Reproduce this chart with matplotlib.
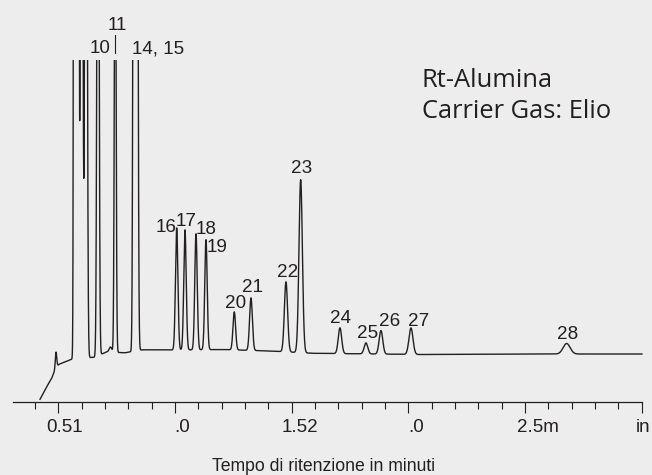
import numpy as np
import matplotlib
matplotlib.use("Agg")
import matplotlib.pyplot as plt
from matplotlib.transforms import ScaledTranslation

# ---------------- data ----------------
# retention time (min), height above baseline, peak width sigma (min)
peak_rt = [0.4901, 0.5771, 0.5999, 0.6187, 0.6701, 0.7237, 0.7439,
           0.8253, 0.8356, 1.0074, 1.0430, 1.0902, 1.1330, 1.2543,
           1.3259, 1.4759, 1.5389, 1.7073, 1.8187, 1.8830, 2.0116, 2.6789]
peak_height = [16, 100000, 990, 990, 760, 5, 500,
               1200, 1200, 122, 120, 116, 110, 38,
               52.5, 70, 173, 25.8, 11, 23.5, 26.5, 10.5]
peak_sigma = [0.0030, 0.00386, 0.00429, 0.00429, 0.00403, 0.00557, 0.00351,
              0.00386, 0.00429, 0.0052, 0.0052, 0.0052, 0.0052, 0.00557,
              0.0060, 0.00686, 0.00729, 0.00729, 0.00771, 0.00771, 0.00857, 0.0150]

# baseline drift of the detector signal
baseline_t = [0.4216, 0.4473, 0.4717, 0.4829, 0.4940, 0.5030, 0.5574, 0.5700,
              0.6530, 0.7087, 0.7859, 0.8600, 1.0001, 1.2016, 1.4073, 1.5916,
              2.0501, 2.6501, 3.0016]
baseline_y = [3.0, 14.3, 24.0, 30.6, 36.0, 38.0, 43.0, 44.0,
              45.0, 50.5, 49.5, 52.5, 52.3, 52.8, 51.3, 49.0,
              47.8, 48.3, 48.3]

# peak labels
label_text = ["10", "11", "14, 15", "16", "17", "18", "19", "20", "21", "22",
              "23", "24", "25", "26", "27", "28"]
label_x = [0.6800, 0.7516, 0.9294, 0.9629, 1.0473, 1.1343, 1.1814, 1.2616,
           1.3310, 1.4814, 1.5423, 1.7086, 1.8264, 1.9216, 2.0459, 2.6845]
label_y = [349, 372.3, 349, 170.3, 176.6, 168.3, 150.6, 94, 110.6, 125.6,
           229, 79, 64, 76.3, 76.6, 63]

tick_values = [0.5, 1.0, 1.5, 2.0, 2.5, 3.0]
tick_labels = ["0.51", ".0", "1.52", ".0", "2.5m", "in"]
tick_label_shift_px = [5.9, 7.5, 8.8, 7.5, 13.0, 1.5]
minor_values = [0.4, 0.6, 0.7, 0.8, 0.9, 1.1, 1.2, 1.3, 1.4, 1.6, 1.7, 1.8, 1.9,
                2.1, 2.2, 2.3, 2.4, 2.6, 2.7, 2.8, 2.9]

x_title = "Tempo di ritenzione in minuti"
info_lines = ["Rt-Alumina", "Carrier Gas: Elio"]

# ---------------- build trace ----------------
t = np.linspace(baseline_t[0], baseline_t[-1], 40000)
signal = np.interp(t, baseline_t, baseline_y)
for rt, h, s in zip(peak_rt, peak_height, peak_sigma):
    signal = signal + h * np.exp(-0.5 * ((t - rt) / s) ** 2)

# ---------------- figure ----------------
BG = "#ededed"
INK = "#231f20"
W, H = 652, 475
fig = plt.figure(figsize=(W / 100, H / 100), dpi=100, facecolor=BG)
ax = fig.add_axes([0, (H - 402.3) / H, 1, (402.3 - 60) / H])
ax.set_facecolor(BG)
ax.plot(t, signal, color=INK, lw=1.0, solid_joinstyle="round")
ax.set_xlim(0.2501, 3.0448)
ax.set_ylim(0, 342.3)

for side in ("left", "right", "top"):
    ax.spines[side].set_visible(False)
ax.spines["bottom"].set_bounds(0.305, 3.003)
ax.spines["bottom"].set_color(INK)
ax.spines["bottom"].set_linewidth(0.9)
ax.set_yticks([])
ax.set_xticks(tick_values, labels=tick_labels)
ax.set_xticks(minor_values, minor=True)
ax.tick_params(axis="x", which="major", direction="out", length=8, width=0.8,
               color=INK, labelcolor=INK, labelsize=13.5, pad=4)
ax.tick_params(axis="x", which="minor", direction="out", length=5, width=0.8,
               color=INK)
for lbl in ax.get_xticklabels():
    lbl.set_fontfamily(["Liberation Sans", "DejaVu Sans"])
for lbl, dx in zip(ax.get_xticklabels(), tick_label_shift_px):
    lbl.set_transform(lbl.get_transform() + ScaledTranslation(dx / 100, 0, fig.dpi_scale_trans))

# peak labels
for txt, lx, ly in zip(label_text, label_x, label_y):
    ax.text(lx, ly, txt, ha="center", va="baseline", fontsize=13.6, color=INK,
            family=["Liberation Sans", "DejaVu Sans"], clip_on=False)
# leader line for peak 11
t11 = peak_rt[6]
ax.plot([t11, t11], [349, 367.3], color=INK, lw=0.8, clip_on=False)

# text block
fig.text(421.7 / W, (H - 86.7) / H, info_lines[0], fontsize=18.4, color=INK,
         family=["Open Sans", "DejaVu Sans"], ha="left", va="baseline")
fig.text(421.7 / W, (H - 118.3) / H, info_lines[1], fontsize=18.4, color=INK,
         family=["Open Sans", "DejaVu Sans"], ha="left", va="baseline")

fig.text(324 / W, (H - 471) / H, x_title, fontsize=12.7, color=INK,
         family=["Liberation Sans", "DejaVu Sans"], ha="center", va="baseline")

fig.savefig("out.png", dpi=100, facecolor=BG)
